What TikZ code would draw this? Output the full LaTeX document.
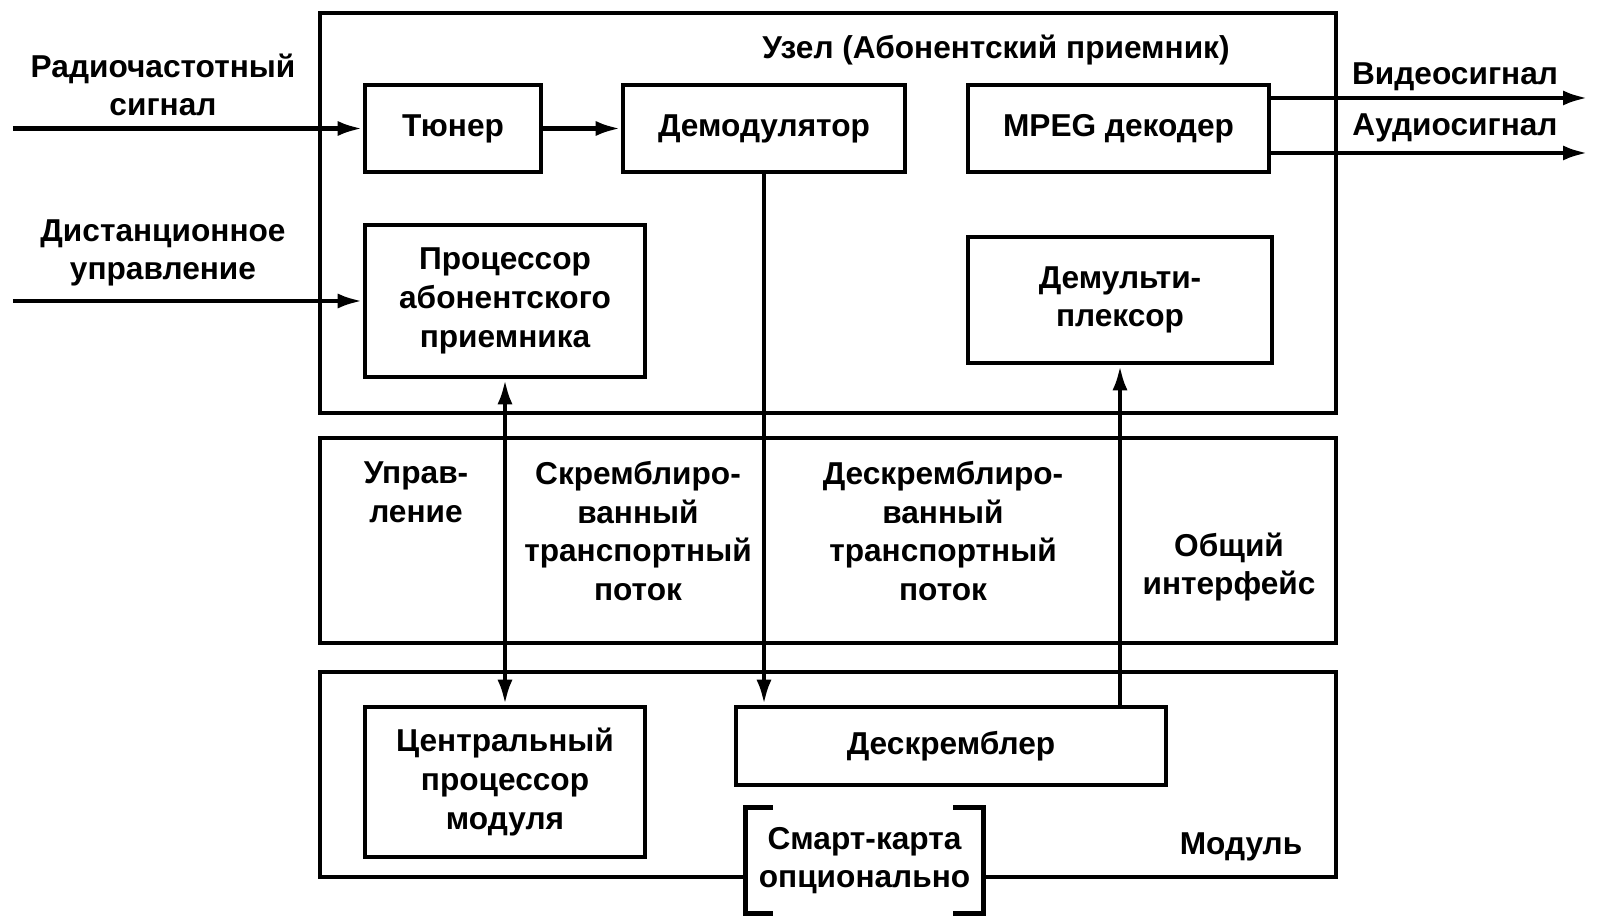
\documentclass[tikz,border=0pt]{standalone}
\usepackage{fontspec}
\setmainfont{Liberation Sans}
\usetikzlibrary{arrows.meta}

\tikzset{
  every node/.style={font=\fontsize{18}{22}\selectfont\bfseries},
  blok/.style={draw, line width=2.6pt, align=center, inner sep=0pt},
  lbl/.style={align=center, inner sep=0pt},
  rama/.style={line width=2.6pt},
  strel/.style={line width=2.6pt, -{Latex[length=0.5cm,width=0.3cm]}}
}

\begin{document}
\begin{tikzpicture}
            \useasboundingbox (0,0) rectangle (32.04,18.42);

            % Draw the three containers
            \draw[rama] (6.4,10.16) rectangle (26.72,18.16);
            \draw[rama] (6.4,5.56) rectangle (26.72,9.66);
            \coordinate (modbl) at (6.4,0.88);

            % Blocks of the receiver
            \node[blok, minimum width=3.52cm, minimum height=1.74cm] (tuner) at (9.06,15.85) {Тюнер};
            \node[blok, minimum width=5.64cm, minimum height=1.74cm] (demod) at (15.28,15.85) {Демодулятор};
            \node[blok, minimum width=6.02cm, minimum height=1.74cm] (mpeg) at (22.37,15.85) {MPEG декодер};
            \node[blok, minimum width=5.6cm, minimum height=3.04cm] (proc) at (10.1,12.4) {Процессор\\абонентского\\приемника};
            \node[blok, minimum width=6.08cm, minimum height=2.52cm] (demux) at (22.4,12.42) {Демульти-\\плексор};

            % Blocks of the module
            \node[blok, minimum width=5.6cm, minimum height=3.0cm] (cpu) at (10.1,2.78) {Центральный\\процессор\\модуля};
            \node[blok, minimum width=8.6cm, minimum height=1.56cm] (descr) at (19.02,3.5) {Дескремблер};
            \node[lbl, minimum width=4.74cm, minimum height=2.1cm] (smart) at (17.29,1.21) {Смарт-карта\\опционально};
            \draw[rama] ([xshift=0.54cm]smart.north west) -- (smart.north west) -- (smart.south west) -- ++(0.54,0);
            \draw[rama] ([xshift=-0.6cm]smart.north east) -- (smart.north east) -- (smart.south east) -- ++(-0.6,0);
            \draw[rama] (smart.west |- modbl) -- (modbl) -- (6.4,4.98) -- (26.72,4.98) -- (26.72,0.88) -- (smart.east |- modbl);

            % Labels
            \node[lbl] (title) at (19.92,17.42) {Узел (Абонентский приемник)};
            \node[lbl] (rf) at (3.26,16.72) {Радиочастотный\\сигнал};
            \node[lbl] (du) at (3.26,13.36) {Дистанционное\\управление};
            \node[lbl] (video) at (29.1,16.88) {Видеосигнал};
            \node[lbl] (audio) at (29.1,15.86) {Аудиосигнал};
            \node[lbl] (upr) at (8.32,8.58) {Управ-\\ление};
            \node[lbl] (scr) at (12.76,7.8) {Скремблиро-\\ванный\\транспортный\\поток};
            \node[lbl] (dscr) at (18.86,7.8) {Дескремблиро-\\ванный\\транспортный\\поток};
            \node[lbl] (ci) at (24.58,7.08) {Общий\\интерфейс};
            \node[lbl] (modul) at (24.82,1.48) {Модуль};

            % Connectors
            \coordinate (rfin) at (0.26,15.85);
            \coordinate (duin) at (0.26,12.4);
            \coordinate (vidout) at (31.76,16.46);
            \coordinate (audout) at (31.76,15.36);
            \draw[strel] (rfin) -- (tuner.west);
            \draw[strel] (duin) -- (proc.west);
            \draw[strel] (tuner) -- (demod);
            \draw[strel] (mpeg.east |- vidout) -- (vidout);
            \draw[strel] (mpeg.east |- audout) -- (audout);
            \draw[strel, {Latex[length=0.5cm,width=0.3cm]}-{Latex[length=0.5cm,width=0.3cm]}] (proc.south) -- (cpu.north);
            \draw[strel] (demod.south) -- (demod.south |- descr.north);
            \draw[strel] (descr.north -| demux.south) -- (demux.south);

        \end{tikzpicture}
\end{document}
